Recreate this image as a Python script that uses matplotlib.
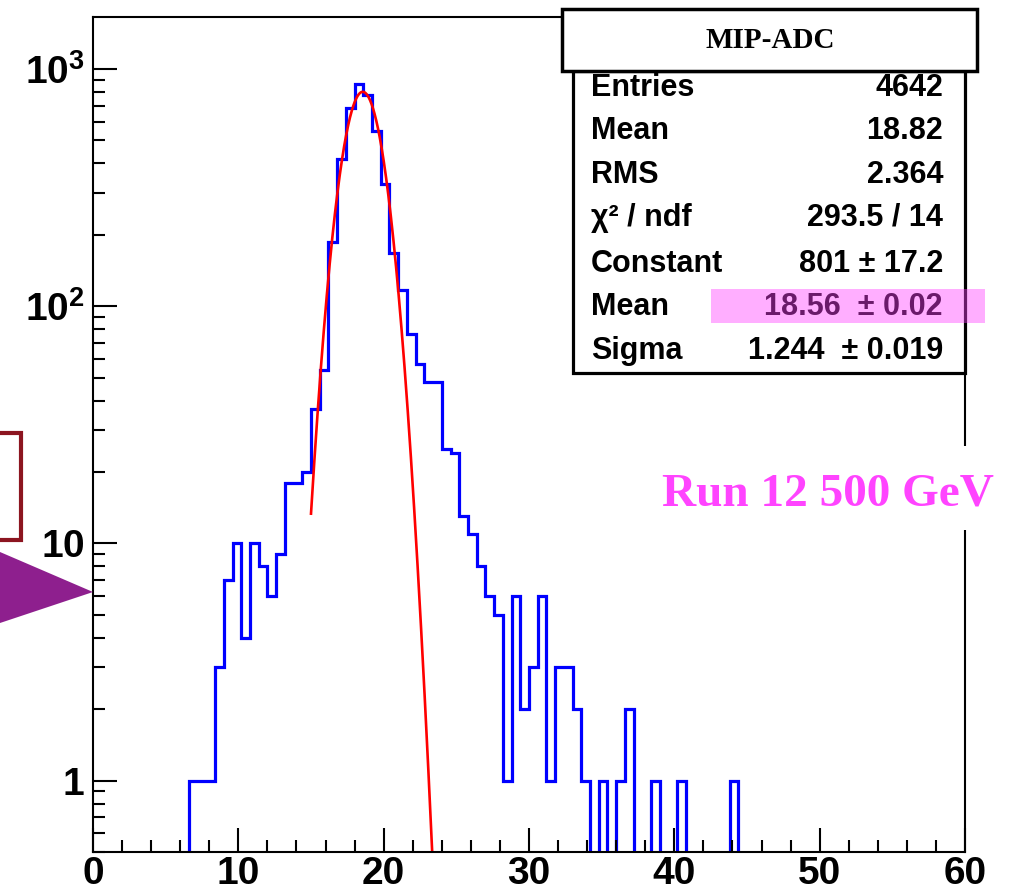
import numpy as np
import matplotlib
matplotlib.use("Agg")
import matplotlib.pyplot as plt
from matplotlib.patches import Rectangle, Polygon
from matplotlib.ticker import FixedLocator, MultipleLocator, LogLocator, NullFormatter

plt.rcParams["mathtext.fontset"] = "custom"
plt.rcParams["mathtext.bf"] = "Liberation Sans:bold"
plt.rcParams["mathtext.rm"] = "Liberation Sans:bold"

# histogram: 100 bins from 0 to 60 (bin width 0.6)
bin_edges = np.linspace(0, 60, 101)
counts = [0] * 100
filled = {
    11: 1, 12: 1, 13: 1, 14: 3, 15: 7, 16: 10, 17: 4, 18: 10, 19: 8, 20: 6,
    21: 9, 22: 18, 23: 18, 24: 20, 25: 37, 26: 54, 27: 187, 28: 417, 29: 687,
    30: 864, 31: 777, 32: 547, 33: 326, 34: 167, 35: 117, 36: 76, 37: 57,
    38: 48, 39: 48, 40: 25, 41: 24, 42: 13, 43: 11, 44: 8, 45: 6, 46: 5,
    47: 1, 48: 6, 49: 2, 50: 3, 51: 6, 52: 1, 53: 3, 54: 3, 55: 2, 56: 1,
    58: 1, 60: 1, 61: 2, 64: 1, 67: 1, 73: 1,
}
for k, v in filled.items():
    counts[k] = v

# gaus fit parameters (from stats box)
fit_const = 801.0
fit_mean = 18.56
fit_sigma = 1.244
fit_range = (15.0, 25.0)

stat_labels = ["Entries", "Mean", "RMS", "\u03c7\u00b2 / ndf", "Constant", "Mean", "Sigma"]
stat_values = ["4642", "18.82", "2.364", "293.5 / 14", "801 \u00b1 17.2",
               "18.56  \u00b1 0.02", "1.244  \u00b1 0.019"]
hist_title = "MIP-ADC"
run_label = "Run 12 500 GeV"

x_ticks = [0, 10, 20, 30, 40, 50, 60]
y_ticks = [1, 10, 100, 1000]
y_ticklabels = [r"$\mathbf{1}$", r"$\mathbf{10}$", r"$\mathbf{10^{2}}$", r"$\mathbf{10^{3}}$"]

W, H = 1019, 894
fig = plt.figure(figsize=(W / 100, H / 100), dpi=100)
fig.patch.set_facecolor("white")


def fx(px):
    return px / W


def fy(py):
    return 1 - py / H


sans = ["Liberation Sans", "DejaVu Sans"]
serif = ["Liberation Serif", "DejaVu Serif"]

ax = fig.add_axes([fx(93), fy(852), (965 - 93) / W, (852 - 17) / H])
ax.stairs(counts, bin_edges, color="#0000ff", lw=2.3, baseline=0)
xf = np.linspace(fit_range[0], fit_range[1], 500)
yf = fit_const * np.exp(-0.5 * ((xf - fit_mean) / fit_sigma) ** 2)
ax.plot(xf, yf, color="#ff0000", lw=1.9)

ax.set_yscale("log")
ax.set_xlim(0, 60)
ax.set_ylim(0.5, 1656)
ax.xaxis.set_major_locator(FixedLocator(x_ticks))
ax.xaxis.set_minor_locator(MultipleLocator(2))
ax.yaxis.set_major_locator(FixedLocator(y_ticks))
ax.yaxis.set_minor_locator(LogLocator(base=10, subs=np.arange(2, 10)))
ax.yaxis.set_minor_formatter(NullFormatter())
ax.set_yticklabels(y_ticklabels)
ax.set_xticklabels([str(v) for v in x_ticks])
ax.tick_params(which="both", direction="in", width=1.5, top=False, right=False)
ax.tick_params(which="major", length=17)
ax.tick_params(which="minor", length=8.5)
ax.tick_params(axis="x", pad=3)
ax.tick_params(axis="y", pad=6)
for lab in ax.get_xticklabels() + ax.get_yticklabels():
    lab.set_fontfamily(sans)
    lab.set_fontweight("bold")
    lab.set_fontsize(28)
for sp in ax.spines.values():
    sp.set_linewidth(1.5)

# stats box
fig.patches.append(Rectangle((fx(573), fy(373)), (965 - 573) / W, (373 - 71) / H,
                             transform=fig.transFigure, facecolor="white",
                             edgecolor="black", lw=2.3, zorder=5))
fig.patches.append(Rectangle((fx(562), fy(71)), (977 - 562) / W, (71 - 9) / H,
                             transform=fig.transFigure, facecolor="white",
                             edgecolor="black", lw=2.5, zorder=5))
fig.text(fx(770), fy(41), hist_title, family=serif, weight="bold", fontsize=21,
         ha="center", va="center", zorder=6)
row_y = [88, 131, 175, 218, 264, 307, 351]
for lab, val, ry in zip(stat_labels, stat_values, row_y):
    fig.text(fx(591), fy(ry), lab, family=sans, weight="bold", fontsize=22,
             ha="left", va="center", zorder=6)
    fig.text(fx(943), fy(ry), val, family=sans, weight="bold", fontsize=22,
             ha="right", va="center", zorder=6)
# highlight on the fitted mean
fig.patches.append(Rectangle((fx(711), fy(323)), (985 - 711) / W, (323 - 289) / H,
                             transform=fig.transFigure, facecolor="#ff40ff",
                             edgecolor="none", alpha=0.42, zorder=7))

# run label
fig.patches.append(Rectangle((fx(650), fy(530)), (1019 - 650) / W, (530 - 446) / H,
                             transform=fig.transFigure, facecolor="white",
                             edgecolor="none", zorder=5))
fig.text(fx(662), fy(494), run_label, family=serif, weight="bold", fontsize=34,
         color="#ff44ff", ha="left", va="center", zorder=6)

# slide annotations at the left edge
fig.patches.append(Rectangle((fx(-20), fy(540)), (41) / W, (540 - 433) / H,
                             transform=fig.transFigure, facecolor="none",
                             edgecolor="#8c1520", lw=3, zorder=5))
fig.patches.append(Polygon([(fx(0), fy(552)), (fx(93), fy(592)), (fx(0), fy(623))],
                           closed=True, transform=fig.transFigure,
                           facecolor="#8e1f8e", edgecolor="none", zorder=5))

fig.savefig("out.png", dpi=100)
